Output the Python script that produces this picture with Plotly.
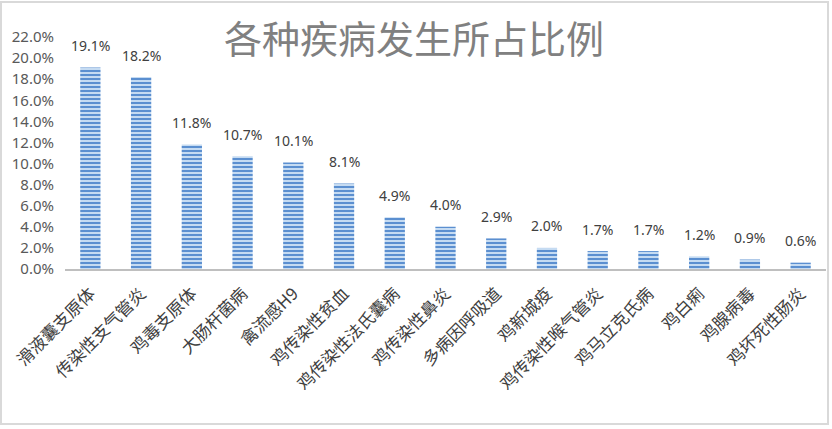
import plotly.graph_objects as go

categories = ["滑液囊支原体", "传染性支气管炎", "鸡毒支原体", "大肠杆菌病", "禽流感H9",
              "鸡传染性贫血", "鸡传染性法氏囊病", "鸡传染性鼻炎", "多病因呼吸道", "鸡新城疫",
              "鸡传染性喉气管炎", "鸡马立克氏病", "鸡白痢", "鸡腺病毒", "鸡坏死性肠炎"]
values = [19.1, 18.2, 11.8, 10.7, 10.1, 8.1, 4.9, 4.0, 2.9, 2.0, 1.7, 1.7, 1.2, 0.9, 0.6]
tick_vals = [0, 2, 4, 6, 8, 10, 12, 14, 16, 18, 20, 22]
tick_text = [f"{v:.1f}%" for v in tick_vals]
value_labels = [f"{v:.1f}%" for v in values]

W, H = 832, 429
ml, mr, mt, mb = 65, 6, 37, 160

fig = go.Figure(go.Bar(
    x=categories, y=values, hoverinfo="skip",
    marker=dict(color="#bdd7ee", line=dict(width=0),
                pattern=dict(shape="-", fgcolor="#5b8fd0", bgcolor="#c5dbf2",
                             size=4, solidity=0.5, fillmode="replace")),
))

annotations = [dict(x=c, y=v, xref="x", yref="y", text=t, showarrow=False,
                    yanchor="middle", yshift=22,
                    font=dict(family="Noto Sans, Noto Sans CJK SC", size=14, color="#404040"))
               for c, v, t in zip(categories, values, value_labels)]

fig.update_layout(
    width=W, height=H,
    margin=dict(l=ml, r=mr, t=mt, b=mb),
    paper_bgcolor="white", plot_bgcolor="white",
    bargap=0.6, showlegend=False,
    title=dict(text="各种疾病发生所占比例", x=414 / W, xanchor="center",
               y=1 - 40 / H, yanchor="middle",
               font=dict(family="Noto Sans CJK SC", size=38, color="#808080")),
    xaxis=dict(tickangle=-45, showgrid=False, showline=True, linecolor="#bfbfbf",
               linewidth=2, ticks="", ticklabelstandoff=6,
               tickfont=dict(family="Noto Sans CJK SC", size=17, color="#404040")),
    yaxis=dict(range=[0, 22], tickvals=tick_vals, ticktext=tick_text,
               showgrid=False, zeroline=False, showline=False, ticklabelstandoff=10,
               tickfont=dict(family="Noto Sans, Noto Sans CJK SC", size=15, color="#595959")),
    annotations=annotations,
    shapes=[dict(type="rect", xref="paper", yref="paper",
                 x0=(1 - ml) / (W - ml - mr), x1=(W - ml - 4) / (W - ml - mr),
                 y0=-(mb - 5) / (H - mt - mb), y1=1 + (mt - 2) / (H - mt - mb),
                 line=dict(color="#d9d9d9", width=2), layer="below")],
)

fig.write_html("out.html", config={"displayModeBar": False},
               post_script="document.body.style.margin='0';document.body.style.overflow='hidden';")
